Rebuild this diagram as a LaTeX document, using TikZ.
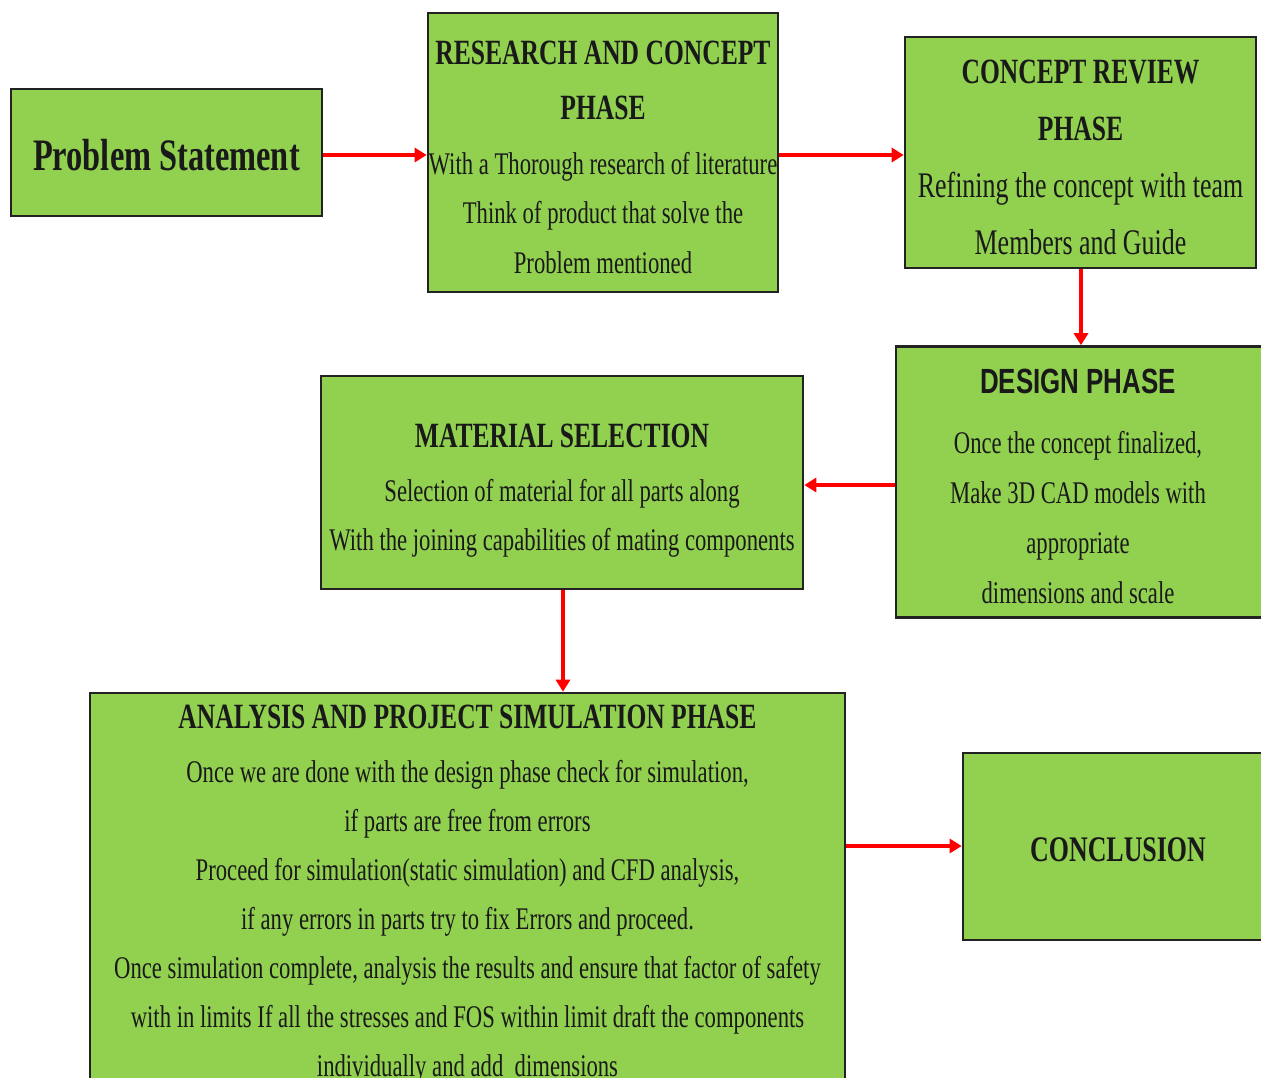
\documentclass[tikz,border=0pt]{standalone}
\usepackage{fontspec}
\setmainfont{Liberation Serif}[FakeStretch=0.72]
\newfontfamily\condsans{Liberation Sans}[FakeStretch=0.74]
\usetikzlibrary{arrows.meta}
\definecolor{boxgreen}{HTML}{92D050}
\definecolor{boxedge}{HTML}{222222}
\definecolor{arrowred}{HTML}{FF0000}
\tikzset{
  phase/.style={draw=boxedge, line width=2.6pt, fill=boxgreen, inner sep=0pt},
  phasetext/.style={inner sep=0pt, align=center, text=black!90},
  flow/.style={draw=arrowred, line width=3.6pt, -{Triangle[length=12pt,width=14pt]}},
}
\newcommand{\bodyfont}[2]{\fontsize{#1}{#2}\selectfont}
\newcommand{\ttl}[1]{{\bfseries\fontsize{35.5}{49}\selectfont #1}}
\begin{document}
\begin{tikzpicture}[x=1pt,y=-1pt]
\useasboundingbox (0,0) rectangle (1261,1078);
\clip (0,0) rectangle (1261,1078);
\fill[white] (0,0) rectangle (1261,1078);

% boxes
\node[phase, minimum width=311pt, minimum height=127pt] (prob) at (166.5,152.5) {};
\node[phase, minimum width=350pt, minimum height=279pt] (res) at (603,152.5) {};
\node[phase, minimum width=351pt, minimum height=231pt] (rev) at (1080.5,152.5) {};
\node[phase, minimum width=370pt, minimum height=271pt] (des) at (1081,482) {};
\node[phase, minimum width=482pt, minimum height=213pt] (mat) at (562,482.5) {};
\node[phase, minimum width=755pt, minimum height=397pt] (ana) at (467.5,891.5) {};
\node[phase, minimum width=310pt, minimum height=187pt] (con) at (1118,846.5) {};

% texts
\node[phasetext] (prob-t) at ([yshift=-3pt]prob.center)
  {\bfseries\fontsize{45}{50}\selectfont Problem Statement};

\node[phasetext, font=\bodyfont{31.5}{49.5}] (res-t) at ([yshift=-4.5pt]res.center)
  {\ttl{RESEARCH AND CONCEPT}\\[6pt]\ttl{PHASE}\\[5pt]With a Thorough research of literature\\Think of product that solve the\\Problem mentioned};

\node[phasetext, font=\bodyfont{36}{57}] (rev-t) at ([yshift=-4.5pt]rev.center)
  {{\bfseries\fontsize{35.5}{57}\selectfont CONCEPT REVIEW}\\{\bfseries\fontsize{35.5}{57}\selectfont PHASE}\\Refining the concept with team\\Members and Guide};

\node[phasetext, font=\bodyfont{31.5}{50}] (des-t) at ([xshift=-3pt,yshift=-4.5pt]des.center)
  {{\condsans\bfseries\fontsize{35}{50}\selectfont DESIGN PHASE}\\[10pt]Once the concept finalized,\\Make 3D CAD models with\\appropriate\\dimensions and scale};

\node[phasetext, font=\bodyfont{31.5}{49}] (mat-t) at ([yshift=-8pt]mat.center)
  {\ttl{MATERIAL SELECTION}\\[5pt]Selection of material for all parts along\\With the joining capabilities of mating components};

\node[phasetext, font=\bodyfont{31.5}{49}] (ana-t) at ([yshift=-3pt]ana.center)
  {\ttl{ANALYSIS AND PROJECT SIMULATION PHASE}\\[5pt]Once we are done with the design phase check for simulation,\\if parts are free from errors\\Proceed for simulation(static simulation) and CFD analysis,\\if any errors in parts try to fix Errors and proceed.\\Once simulation complete, analysis the results and ensure that factor of safety\\with in limits If all the stresses and FOS within limit draft the components\\individually and add\ \ dimensions};

\node[phasetext] (con-t) at ([yshift=-3pt]con.center)
  {\bfseries\fontsize{36}{40}\selectfont CONCLUSION};

% connectors
\draw[flow] (prob.east |- 0,155) -- (res.west |- 0,155);
\draw[flow] (res.east |- 0,155) -- (rev.west |- 0,155);
\draw[flow] (1081,0 |- rev.south) -- (1081,0 |- des.north);
\draw[flow] (des.west |- 0,485) -- (mat.east |- 0,485);
\draw[flow] (563,0 |- mat.south) -- (563,0 |- ana.north);
\draw[flow] (ana.east |- 0,846) -- (con.west |- 0,846);
\end{tikzpicture}
\end{document}
